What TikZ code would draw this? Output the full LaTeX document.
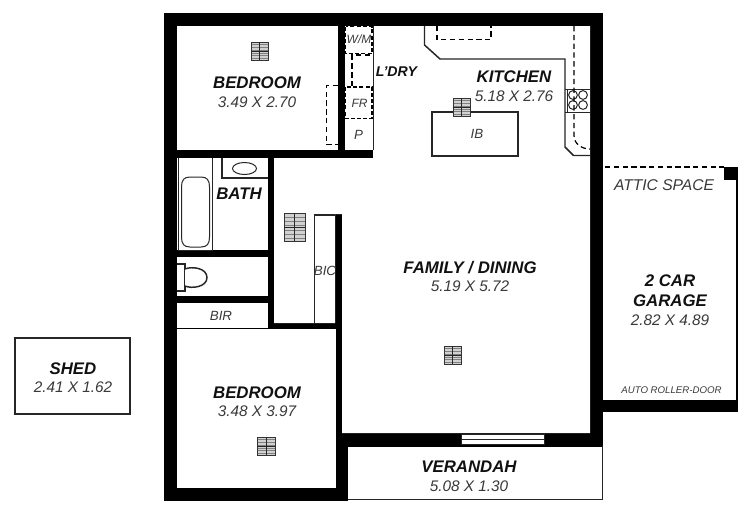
\documentclass[tikz,border=0pt]{standalone}
\usepackage{fontspec}
\setmainfont{Liberation Sans}
\definecolor{ink}{HTML}{111111}
\definecolor{dim}{HTML}{3A3A3A}
\newcommand\skyl[4]{%
  \fill[black!18] (#1,#2) rectangle (#3,#4);
  \foreach \yy in {0.15,0.3,...,0.95}{\draw[black!50,line width=.35pt] (#1,{#2+(#4-#2)*\yy}) -- (#3,{#2+(#4-#2)*\yy});}
  \draw[black!80,line width=.6pt] (#1,#2) rectangle (#3,#4);
  \draw[black!85,line width=.7pt] ({(#1+#3)/2},#2) -- ({(#1+#3)/2},#4) (#1,{(#2+#4)/2}) -- (#3,{(#2+#4)/2});
}
\tikzset{
  room/.style={font=\bfseries\itshape\fontsize{12.6}{14}\selectfont,text=ink,inner sep=0pt},
  size/.style={font=\itshape\fontsize{11.5}{13}\selectfont,text=dim,inner sep=0pt},
  small/.style={font=\itshape\fontsize{9}{11}\selectfont,text=dim,inner sep=0pt},
  label/.style={font=\itshape\fontsize{10}{12}\selectfont,text=dim,inner sep=0pt},
  wallfill/.style={fill=black,draw=none},
  floorfill/.style={fill=white,draw=none},
  thin line/.style={draw=black!85,line width=.75pt},
  med line/.style={draw=black!85,line width=1.1pt},
  dash line/.style={draw=black,line width=.9pt,dash pattern=on 4pt off 2.6pt},
  heavy dash/.style={draw=black,line width=1.4pt,dash pattern=on 3pt off 1.6pt},
}
\begin{document}
\begin{tikzpicture}[x=0.75pt,y=-0.75pt]
\useasboundingbox (0,0) rectangle (750,515);
\fill[white] (0,0) rectangle (750,515);
% walls
\fill[wallfill] (164,13) rectangle (603,501);
\fill[wallfill] (603,399.5) rectangle (737.5,411.5);
% rooms
\fill[floorfill] (177,26) rectangle (338,150);
\fill[floorfill] (345,26) rectangle (373,150);
\fill[floorfill] (373,26) -- (590,26) -- (590,433) -- (342,433) -- (342,214) -- (335,214) -- (335,323) -- (274,323) -- (274,158) -- (373,158) -- cycle;
\fill[floorfill] (177,158) rectangle (268,250);
\fill[floorfill] (177,257) rectangle (268,296);
\fill[floorfill] (177,303) rectangle (268,328);
\fill[floorfill] (177,329) rectangle (335.5,487.5);
\fill[floorfill] (348,446.5) rectangle (603,499.5);
\fill[white] (603,446) rectangle (606,502);
\fill[white] (348,500.2) rectangle (606,503);
\draw[thin line] (348,499.7) -- (602.6,499.7) -- (602.6,446);
% window
\fill[white] (461,434) rectangle (544,444);
\draw[thin line] (461,434) rectangle (544,444);
\draw[thin line] (461,439) -- (544,439);
% laundry
\draw[heavy dash] (345.5,26.5) rectangle (372,53.5);
\draw[heavy dash] (345.5,87) rectangle (372,118.5);
\draw[dash line] (370,55) -- (352,55) -- (352,87);
\draw[thin line] (373.5,26) -- (373.5,150);
\draw[dash line] (338,85.5) -- (326.5,85.5) -- (326.5,144.5) -- (338,144.5);
% kitchen
\draw[med line] (424.5,26) -- (424.5,45) -- (440,59) -- (565,59) -- (565,147) -- (573.5,155.5) -- (590,155.5);
\draw[dash line] (437,26) -- (437,39.5) -- (491,39.5) -- (491,26);
\draw[thin line] (565,89) -- (590,89) (565,112) -- (590,112) (567.5,89) -- (567.5,112);
\foreach \cx in {573,583}\foreach \cy in {95,105}{\draw[thin line] (\cx,\cy) circle[radius=4.4];}
\draw[dash line] (574,26) -- (574,136) .. controls (574,143) and (581,149) .. (590,149);
\draw[med line] (432,112) rectangle (518,156);
\skyl{453}{98}{470}{116}
\skyl{251}{42}{268}{60}
\skyl{284}{213}{305}{241}
\skyl{444}{346}{461}{364}
\skyl{257}{437}{275}{455}
% bath
\draw[thin line] (178,158) -- (178,250) (178,250) -- (212,250) -- (212,158);
\draw[med line] (222,158) -- (222,178) -- (268,178);
\draw[thin line] (244.5,168.5) ellipse[x radius=12,y radius=6];
\draw[thin line] (181.5,187) .. controls (181.5,180) and (184,177) .. (190,177) -- (201,177) .. controls (207,177) and (209.5,180) .. (209.5,187) -- (209.5,237) .. controls (209.5,244) and (207,247) .. (201,247) -- (190,247) .. controls (184,247) and (181.5,244) .. (181.5,237) -- cycle;
% toilet
\draw[med line,fill=white] (177,264) -- (185,264) -- (185,291) -- (177,291);
\draw[med line,fill=white] (185,269) .. controls (192,266) and (207,268) .. (207,277.5) .. controls (207,287) and (192,289) .. (185,286);
% BIC
\draw[med line] (335,215) -- (314.5,215) -- (314.5,323);
% shed and garage
\draw[med line] (15,338) rectangle (130,414);
\draw[dash line] (605,167) -- (724,167);
\fill[black] (724,167) rectangle (737.5,180);
\draw[draw=black,line width=1.1pt] (737,167) -- (737,400);
% labels
\node[room] (bed1) at (257,83) {BEDROOM};
\node[size] (bed1s) at (257,102) {3.49 X 2.70};
\node[small] (wm) at (359,39) {W/M};
\node[small] (fr) at (359.5,103) {FR};
\node[label] (pp) at (358.5,135) {P};
\node[room,font=\bfseries\itshape\fontsize{10.6}{12}\selectfont] (ldry) at (396.5,72) {L'DRY};
\node[room] (kit) at (514,77) {KITCHEN};
\node[size] (kits) at (514,96) {5.18 X 2.76};
\node[label] (ib) at (477,134) {IB};
\node[room] (bath) at (239,194) {BATH};
\node[label] (bic) at (325,271) {BIC};
\node[label] (bir) at (221,316) {BIR};
\node[room] (fam) at (470,268) {FAMILY / DINING};
\node[size] (fams) at (470,286) {5.19 X 5.72};
\node[room] (bed2) at (257,393) {BEDROOM};
\node[size] (bed2s) at (257,411) {3.48 X 3.97};
\node[room] (ver) at (469,467) {VERANDAH};
\node[size] (vers) at (469,486) {5.08 X 1.30};
\node[room] (shed) at (73,368.5) {SHED};
\node[size] (sheds) at (73,387) {2.41 X 1.62};
\node[size,font=\itshape\fontsize{11.7}{13}\selectfont] (attic) at (664,185) {ATTIC SPACE};
\node[room] (g1) at (670,281) {2 CAR};
\node[room] (g2) at (670,301) {GARAGE};
\node[size] (gs) at (670,320) {2.82 X 4.89};
\node[small,font=\itshape\fontsize{7.25}{8}\selectfont] (roller) at (671.5,390) {AUTO ROLLER-DOOR};
\end{tikzpicture}
\end{document}
